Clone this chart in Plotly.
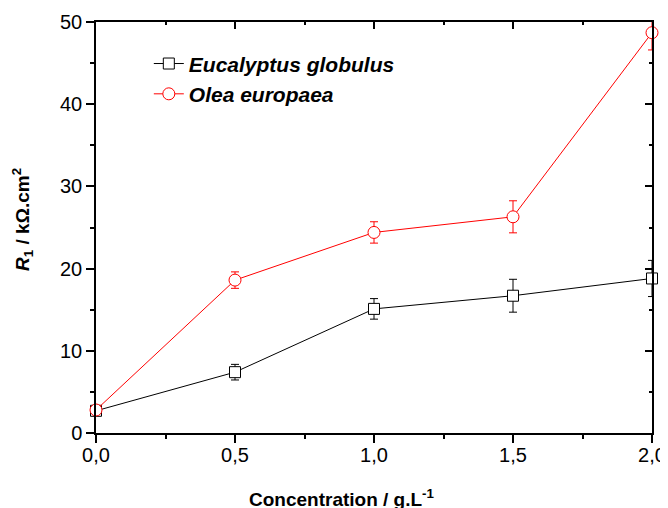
import plotly.graph_objects as go

conc = [0.0, 0.5, 1.0, 1.5, 2.0]
euc = [2.7, 7.4, 15.1, 16.7, 18.8]
euc_err = [0.3, 0.95, 1.25, 2.0, 2.2]
olea = [2.8, 18.6, 24.4, 26.3, 48.7]
olea_err = [0.3, 1.0, 1.3, 1.95, 2.1]
xtick_vals = [0.0, 0.5, 1.0, 1.5, 2.0]
xtick_text = ["0,0", "0,5", "1,0", "1,5", "2,0"]
xminor_vals = [0.25, 0.75, 1.25, 1.75]
ytick_vals = [0, 10, 20, 30, 40, 50]
yminor_vals = [5, 15, 25, 35, 45]

FONT = "Liberation Sans, Arial, sans-serif"

fig = go.Figure()
fig.add_trace(go.Scatter(
    x=conc, y=euc, name="Eucalyptus globulus", mode="lines+markers",
    line=dict(color="black", width=1),
    marker=dict(symbol="square", size=11, color="white", line=dict(color="black", width=1)),
    error_y=dict(type="data", array=euc_err, color="black", thickness=1, width=4),
    cliponaxis=False,
))
fig.add_trace(go.Scatter(
    x=conc, y=olea, name="Olea europaea", mode="lines+markers",
    line=dict(color="red", width=1),
    marker=dict(symbol="circle", size=12, color="white", line=dict(color="red", width=1)),
    error_y=dict(type="data", array=olea_err, color="red", thickness=1, width=4),
    cliponaxis=False,
))
# invisible helper so the mirrored frame axes (top / right) are drawn
fig.add_trace(go.Scatter(
    x=conc, y=euc, xaxis="x2", yaxis="y2", mode="markers",
    marker=dict(opacity=0), showlegend=False, hoverinfo="skip",
))

axis_common = dict(showline=True, linecolor="black", linewidth=1.5, showgrid=False,
                   zeroline=False, tickcolor="black", tickwidth=1.5, automargin=False,
                   tickfont=dict(family=FONT, size=20, color="black"))

fig.update_layout(
    width=660, height=500,
    margin=dict(l=88, r=16, t=14, b=75, autoexpand=False),
    plot_bgcolor="white", paper_bgcolor="white",
    xaxis=dict(range=[0, 2], tickmode="array", tickvals=xtick_vals, ticktext=xtick_text,
               ticks="outside", ticklen=8, ticklabelstandoff=-5,
               minor=dict(tickvals=xminor_vals, ticks="outside", ticklen=4,
                          tickcolor="black", tickwidth=1.5),
               **axis_common),
    yaxis=dict(range=[0, 50], tickmode="array", tickvals=ytick_vals,
               ticks="outside", ticklen=8,
               minor=dict(tickvals=yminor_vals, ticks="outside", ticklen=4,
                          tickcolor="black", tickwidth=1.5),
               **axis_common),
    xaxis2=dict(range=[0, 2], overlaying="x", side="top", anchor="y",
                tickmode="array", tickvals=xtick_vals, showticklabels=False,
                ticks="inside", ticklen=7,
                minor=dict(tickvals=xminor_vals, ticks="inside", ticklen=3,
                           tickcolor="black", tickwidth=1.5),
                **axis_common),
    yaxis2=dict(range=[0, 50], overlaying="y", side="right", anchor="x",
                tickmode="array", tickvals=ytick_vals, showticklabels=False,
                ticks="inside", ticklen=7,
                minor=dict(tickvals=yminor_vals, ticks="inside", ticklen=3,
                           tickcolor="black", tickwidth=1.5),
                **axis_common),
    showlegend=True,
    legend=dict(x=0.095, y=0.948, xanchor="left", yanchor="top",
                bgcolor="rgba(0,0,0,0)", borderwidth=0,
                font=dict(family=FONT, size=21, color="black", weight="bold", style="italic"),
                tracegroupgap=0),
    annotations=[
        dict(text="Concentration / g.L<sup>-1</sup>", xref="paper", yref="paper",
             x=0.4424, y=-0.159, xanchor="center", yanchor="middle", showarrow=False,
             font=dict(family=FONT, size=19, color="black", weight="bold")),
        dict(text="<i>R</i><sub>1</sub> / kΩ.cm<sup>2</sup>", xref="paper", yref="paper",
             x=-0.132, y=0.52, xanchor="center", yanchor="middle", showarrow=False,
             textangle=-90,
             font=dict(family=FONT, size=19, color="black", weight="bold")),
    ],
)

fig.write_html("out.html")
